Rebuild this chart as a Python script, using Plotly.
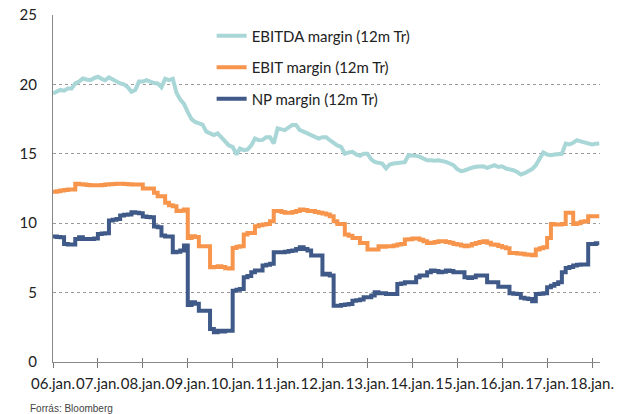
import pandas as pd
import plotly.graph_objects as go

# Monthly observations, Jan 2006 - Mar 2018
dates = pd.date_range("2006-01-01", "2018-03-01", freq="MS")

# EBITDA margin (12m trailing), %
ebitda_margin = [
    19.35, 19.45, 19.6, 19.55, 19.7, 19.7, 20.07, 20.2, 20.43, 20.35, 20.3, 20.45,   # 2006
    20.55, 20.4, 20.3, 20.5, 20.35, 20.2, 20.07, 20.0, 19.8, 19.47, 19.6, 20.2,      # 2007
    20.2, 20.3, 20.2, 20.1, 20.07, 19.8, 20.4, 20.3, 20.4, 19.4, 18.9, 18.6,         # 2008
    18.0, 17.5, 17.3, 17.2, 17.1, 16.6, 16.5, 16.35, 16.47, 16.2, 15.87, 15.6,       # 2009
    15.5, 14.95, 15.38, 15.26, 15.3, 15.6, 16.1, 15.98, 16.0, 16.2, 16.2, 15.75,     # 2010
    16.83, 16.8, 16.7, 16.9, 17.07, 17.07, 16.7, 16.6, 16.47, 16.3, 16.2, 16.1,      # 2011
    16.2, 16.2, 15.98, 15.75, 15.6, 15.5, 15.0, 15.1, 15.14, 14.95, 14.86, 15.0,     # 2012
    15.0, 14.6, 14.42, 14.35, 14.3, 13.94, 14.23, 14.3, 14.35, 14.4, 14.4, 14.9,     # 2013
    14.9, 14.85, 14.8, 14.7, 14.54, 14.54, 14.5, 14.54, 14.5, 14.42, 14.3, 14.18,    # 2014
    13.9, 13.75, 13.8, 13.94, 14.0, 14.06, 14.1, 14.1, 13.99, 14.1, 14.18, 14.05,    # 2015
    14.1, 13.94, 13.9, 13.82, 13.7, 13.5, 13.6, 13.75, 13.9, 14.18, 14.6, 15.1,      # 2016
    14.95, 14.9, 14.95, 14.95, 15.0, 15.74, 15.67, 15.8, 15.98, 15.9, 15.8, 15.75,   # 2017
    15.67, 15.72, 15.74,                                                              # 2018
]

# EBIT margin (12m trailing), %
ebit_margin = [
    12.26, 12.3, 12.36, 12.4, 12.43, 12.43, 12.84, 12.8, 12.78, 12.76, 12.74, 12.74,  # 2006
    12.74, 12.76, 12.78, 12.8, 12.82, 12.84, 12.84, 12.82, 12.8, 12.79, 12.79, 12.79,  # 2007
    12.5, 12.5, 12.5, 12.19, 11.95, 11.95, 11.47, 11.3, 11.23, 10.87, 10.9, 10.99,    # 2008
    8.94, 9.06, 9.0, 8.34, 8.34, 8.34, 6.83, 6.85, 6.9, 6.85, 6.75, 6.73,             # 2009
    8.22, 8.3, 8.34, 9.18, 9.3, 9.3, 9.78, 9.85, 9.9, 9.95, 10.14, 10.87,             # 2010
    10.87, 10.8, 10.75, 10.75, 10.8, 10.87, 10.99, 10.95, 10.87, 10.87, 10.8, 10.75,  # 2011
    10.7, 10.63, 10.5, 10.14, 9.95, 9.95, 9.18, 9.1, 8.94, 8.94, 8.58, 8.58,          # 2012
    8.1, 8.1, 8.1, 8.34, 8.3, 8.34, 8.34, 8.4, 8.46, 8.5, 8.82, 8.85,                 # 2013
    8.9, 8.9, 8.8, 8.7, 8.58, 8.6, 8.65, 8.7, 8.7, 8.65, 8.6, 8.5,                    # 2014
    8.46, 8.4, 8.34, 8.4, 8.5, 8.58, 8.65, 8.7, 8.6, 8.46, 8.45, 8.35,                # 2015
    8.27, 8.2, 7.86, 7.86, 7.82, 7.79, 7.75, 7.72, 7.69, 8.1, 8.2, 8.27,              # 2016
    8.94, 9.95, 9.9, 9.9, 9.95, 10.75, 10.75, 9.95, 10.0, 10.1, 10.14, 10.5,          # 2017
    10.5, 10.5, 10.5,                                                                  # 2018
]

# Net profit margin (12m trailing), %
np_margin = [
    9.04, 9.0, 8.99, 8.51, 8.46, 8.46, 8.87, 8.99, 8.87, 8.87, 8.87, 8.9,             # 2006
    9.23, 9.25, 9.28, 10.19, 10.25, 10.31, 10.55, 10.6, 10.63, 10.79, 10.75, 10.72,   # 2007
    10.48, 10.45, 10.43, 9.76, 9.71, 9.11, 9.05, 9.04, 7.9, 7.95, 8.03, 8.39,         # 2008
    4.1, 4.3, 4.2, 3.7, 3.7, 3.7, 2.38, 2.14, 2.26, 2.2, 2.26, 2.26,                  # 2009
    5.14, 5.2, 5.26, 6.1, 6.2, 6.47, 6.59, 6.6, 6.95, 7.0, 7.07, 7.91,                # 2010
    7.91, 7.91, 7.95, 8.0, 8.03, 8.15, 8.27, 8.15, 8.03, 7.67, 7.67, 7.67,            # 2011
    6.3, 6.35, 6.23, 4.06, 4.06, 4.1, 4.15, 4.18, 4.42, 4.45, 4.5, 4.66,              # 2012
    4.66, 4.8, 5.02, 4.95, 4.95, 4.9, 4.9, 4.9, 5.62, 5.65, 5.75, 5.75,               # 2013
    5.75, 6.1, 6.23, 6.23, 6.47, 6.59, 6.55, 6.47, 6.5, 6.59, 6.55, 6.47,             # 2014
    6.47, 6.47, 6.1, 6.06, 6.1, 6.23, 6.23, 6.23, 5.75, 5.75, 5.75, 5.43,             # 2015
    5.43, 5.43, 4.95, 4.92, 4.9, 4.62, 4.58, 4.54, 4.38, 4.9, 4.92, 4.95,             # 2016
    5.38, 5.5, 5.62, 5.75, 6.47, 6.78, 6.85, 6.95, 7.0, 7.02, 7.02, 8.51,             # 2017
    8.51, 8.56, 8.56,                                                                  # 2018
]

series_names = ["EBITDA margin (12m Tr)", "EBIT margin (12m Tr)", "NP margin (12m Tr)"]
series_colors = ["#a9d6d6", "#f7954c", "#3f5a88"]

tick_dates = [f"{y}-01-01" for y in range(2006, 2019)]
tick_labels = ["06.jan.", "07.jan.", "08.jan.", "09.jan.", "10.jan.", "11.jan.", "12.jan.",
               "13.jan.", "14.jan.", "15.jan.", "16.jan.", "17.jan.", "18.jan."]

FONT = "Lato, 'Open Sans', sans-serif"

fig = go.Figure()
for i, (name, vals, col, shape) in enumerate(zip(
        series_names, [ebitda_margin, ebit_margin, np_margin], series_colors,
        ["linear", "hv", "hv"])):
    fig.add_trace(go.Scatter(
        x=dates, y=vals, name=name, mode="lines",
        line=dict(color=col, width=4, shape=shape),
        legendgroup=f"g{i}",
    ))

# companion axis carrying the inward half of the crossing x ticks
fig.add_trace(go.Scatter(x=[dates[0]], y=[None], xaxis="x2", showlegend=False,
                         hoverinfo="skip"))

x_range = ["2006-01-01", "2018-03-07"]

fig.update_layout(
    width=630, height=414,
    margin=dict(l=53, r=30, t=15, b=52, autoexpand=False),
    paper_bgcolor="white", plot_bgcolor="white",
    font=dict(family=FONT, size=15, color="#222"),
    showlegend=True,
    legend=dict(
        x=0.29, y=0.987, xanchor="left", yanchor="top",
        bgcolor="rgba(0,0,0,0)", font=dict(size=15, color="#222"),
        traceorder="grouped", tracegroupgap=9,
    ),
    xaxis=dict(
        type="date", range=x_range, automargin=False, tickangle=0,
        tickmode="array", tickvals=tick_dates, ticktext=tick_labels,
        ticks="outside", ticklen=5, tickcolor="#777", tickwidth=1,
        ticklabelstandoff=3,
        showline=True, linecolor="#888", linewidth=1,
        showgrid=False, zeroline=False,
        tickfont=dict(size=15, color="#222"),
    ),
    xaxis2=dict(
        type="date", range=x_range, overlaying="x", automargin=False,
        tickmode="array", tickvals=tick_dates, ticktext=[""] * len(tick_dates),
        ticks="inside", ticklen=4, tickcolor="#777", tickwidth=1,
        showline=False, showgrid=False, zeroline=False, side="bottom",
        showticklabels=False,
    ),
    yaxis=dict(
        range=[0, 25], tickvals=[0, 5, 10, 15, 20, 25], automargin=False,
        showgrid=True, gridcolor="#9a9a9a", gridwidth=1, griddash="dot",
        showline=True, linecolor="#888", linewidth=1,
        zeroline=False, ticks="", ticklabelstandoff=12,
        tickfont=dict(size=15, color="#222"),
    ),
    annotations=[dict(
        text="Forrás: Bloomberg", xref="paper", yref="paper",
        x=-0.046, y=-0.133, xanchor="left", yanchor="middle", showarrow=False,
        font=dict(family="'Liberation Sans Narrow', 'Liberation Sans', sans-serif",
                  size=10, color="#444"),
    )],
)

fig.write_html("out.html")
